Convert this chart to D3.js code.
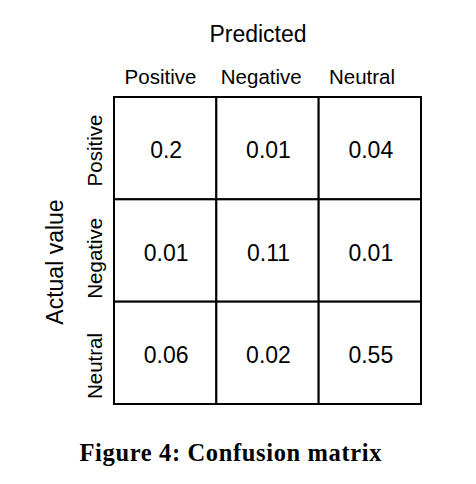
<!DOCTYPE html>
<html>
<head>
<meta charset="utf-8">
<script src="https://cdn.jsdelivr.net/npm/d3@7"></script>
<style>
  html, body { margin: 0; padding: 0; background: #fff; }
  svg { display: block; }
</style>
</head>
<body>
<svg id="chart" width="476" height="484"></svg>
<script>
const predictedLabels = ["Positive", "Negative", "Neutral"];
const actualLabels = ["Positive", "Negative", "Neutral"];
const rowPositive = [0.2, 0.01, 0.04];
const rowNegative = [0.01, 0.11, 0.01];
const rowNeutral = [0.06, 0.02, 0.55];
const matrixRows = [rowPositive, rowNegative, rowNeutral];
const xTitle = "Predicted";
const yTitle = "Actual value";
const caption = "Figure 4: Confusion matrix";

const cells = [];
matrixRows.forEach((row, i) => row.forEach((v, j) => cells.push({ actual: actualLabels[i], predicted: predictedLabels[j], value: v })));

const svg = d3.select("#chart");
const sans = "'Liberation Sans', Arial, Helvetica, sans-serif";

const x = d3.scaleBand().domain(predictedLabels).range([114, 421]).padding(0);
const y = d3.scaleBand().domain(actualLabels).range([97, 404]).padding(0);
// label positions (slightly offset as in the reference)
const xl = d3.scalePoint().domain(predictedLabels).range([160.5, 362]);
const yl = d3.scalePoint().domain(actualLabels).range([150.5, 366]);

svg.append("g").selectAll("rect").data(cells).join("rect")
  .attr("x", d => x(d.predicted))
  .attr("y", d => y(d.actual))
  .attr("width", x.bandwidth())
  .attr("height", y.bandwidth())
  .attr("fill", "#fff")
  .attr("stroke", "#000")
  .attr("stroke-width", 2);

svg.append("g").selectAll("text").data(cells).join("text")
  .attr("x", d => x(d.predicted) + x.bandwidth() / 2 + 1)
  .attr("y", d => y(d.actual) + y.bandwidth() / 2 + 10)
  .attr("text-anchor", "middle")
  .attr("font-family", sans)
  .attr("font-size", 23)
  .attr("fill", "#000")
  .text(d => d.value);

svg.append("g").selectAll("text").data(predictedLabels).join("text")
  .attr("x", d => xl(d))
  .attr("y", 84)
  .attr("text-anchor", "middle")
  .attr("font-family", sans)
  .attr("font-size", 20.5)
  .text(d => d);

svg.append("g").selectAll("text").data(actualLabels).join("text")
  .attr("transform", d => `translate(101.5,${yl(d)}) rotate(-90)`)
  .attr("text-anchor", "middle")
  .attr("font-family", sans)
  .attr("font-size", 20.5)
  .text(d => d);

svg.append("text")
  .attr("x", 258)
  .attr("y", 41.5)
  .attr("text-anchor", "middle")
  .attr("font-family", sans)
  .attr("font-size", 23)
  .text(xTitle);

svg.append("text")
  .attr("transform", "translate(63,262) rotate(-90)")
  .attr("text-anchor", "middle")
  .attr("font-family", sans)
  .attr("font-size", 23)
  .text(yTitle);

svg.append("text")
  .attr("x", 230.5)
  .attr("y", 461)
  .attr("text-anchor", "middle")
  .attr("font-family", "'Liberation Serif', 'DejaVu Serif', serif")
  .attr("font-weight", "bold")
  .attr("font-size", 24.5)
  .attr("textLength", 302)
  .attr("lengthAdjust", "spacing")
  .text(caption);
</script>
</body>
</html>
